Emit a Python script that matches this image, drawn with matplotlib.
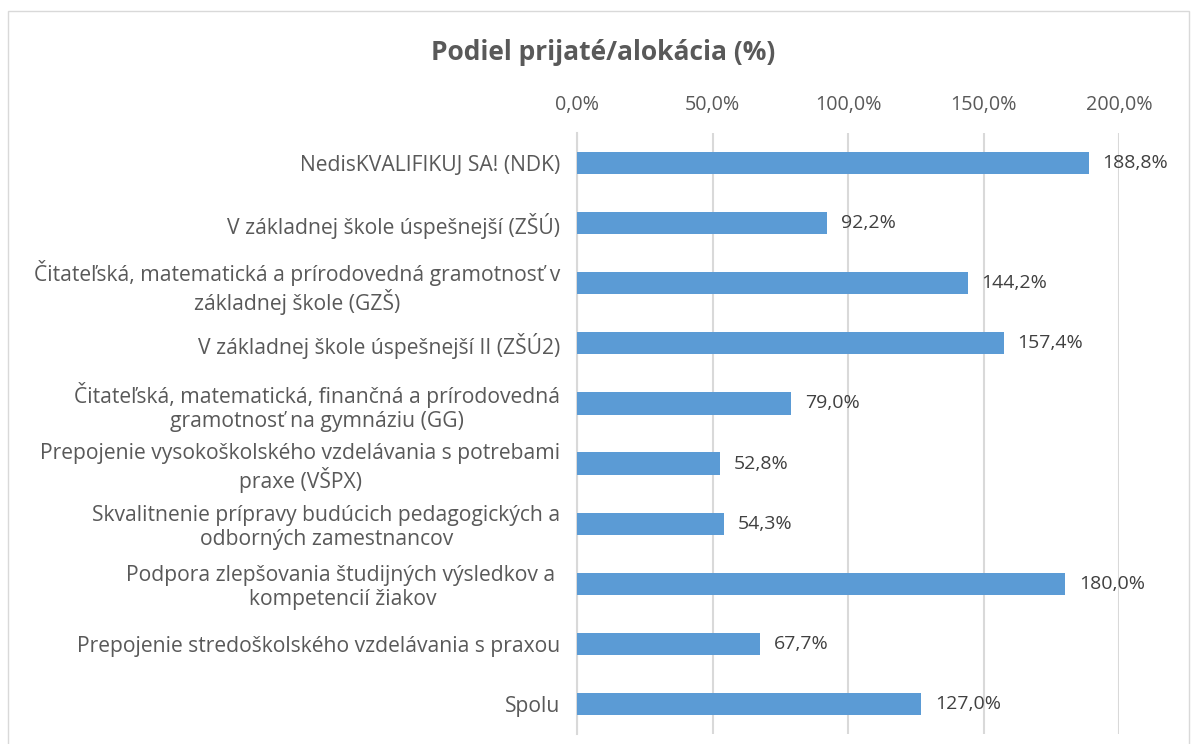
import matplotlib
matplotlib.use("Agg")
import matplotlib.pyplot as plt
from matplotlib.patches import Rectangle
from matplotlib.ticker import FuncFormatter, MultipleLocator

categories = [
    "NedisKVALIFIKUJ SA! (NDK)",
    "V základnej škole úspešnejší (ZŠÚ)",
    "Čitateľská, matematická a prírodovedná gramotnosť v\nzákladnej škole (GZŠ)",
    "V základnej škole úspešnejší II (ZŠÚ2)",
    "Čitateľská, matematická, finančná a prírodovedná\ngramotnosť na gymnáziu (GG)",
    "Prepojenie vysokoškolského vzdelávania s potrebami\npraxe (VŠPX)",
    "Skvalitnenie prípravy budúcich pedagogických a\nodborných zamestnancov",
    "Podpora zlepšovania študijných výsledkov a \nkompetencií žiakov",
    "Prepojenie stredoškolského vzdelávania s praxou",
    "Spolu",
]
values = [188.8, 92.2, 144.2, 157.4, 79.0, 52.8, 54.3, 180.0, 67.7, 127.0]
title = "Podiel prijaté/alokácia (%)"

FONT = "Open Sans"
plt.rcParams["font.family"] = [FONT, "DejaVu Sans"]

fig = plt.figure(figsize=(11.92, 7.44), dpi=100)
fig.patches.append(Rectangle((8 / 1192, -0.01), 1181 / 1192, 1 - 11 / 744 + 0.01,
                             transform=fig.transFigure, fill=False,
                             edgecolor="#d9d9d9", linewidth=1.0))
ax = fig.add_axes([577 / 1192, 1 - 734 / 744, (1119 - 577) / 1192, (734 - 133) / 744])

pos = list(range(len(categories)))
ax.barh(pos, values, height=0.37, color="#5B9BD5", zorder=3)
ax.set_ylim(len(categories) - 0.5, -0.5)
ax.set_xlim(0, 200)
ax.xaxis.set_major_locator(MultipleLocator(50))
ax.xaxis.set_major_formatter(FuncFormatter(lambda v, p: f"{v:.1f}".replace(".", ",") + "%"))
ax.xaxis.tick_top()
ax.tick_params(axis="x", length=0, pad=13, labelsize=14.2, labelcolor="#595959")
ax.tick_params(axis="y", length=0, pad=12, labelsize=15.2, labelcolor="#595959")
ax.set_yticks(pos)
ax.set_yticklabels(categories, multialignment="center", linespacing=1.15)
ax.grid(axis="x", color="#d9d9d9", linewidth=1.5, zorder=0)
for s in ["top", "right", "bottom"]:
    ax.spines[s].set_visible(False)
ax.spines["left"].set_color("#d9d9d9")
ax.spines["left"].set_linewidth(1.5)

for p, v in zip(pos, values):
    ax.annotate(f"{v:.1f}".replace(".", ",") + "%", (v, p), xytext=(10, 0),
                textcoords="offset points", ha="left", va="center",
                fontsize=14, color="#404040")

fig.text(603 / 1192, 1 - 53 / 744, title, ha="center", va="center",
         fontsize=19, fontweight="bold", color="#595959")

fig.savefig("out.png", dpi=100)
